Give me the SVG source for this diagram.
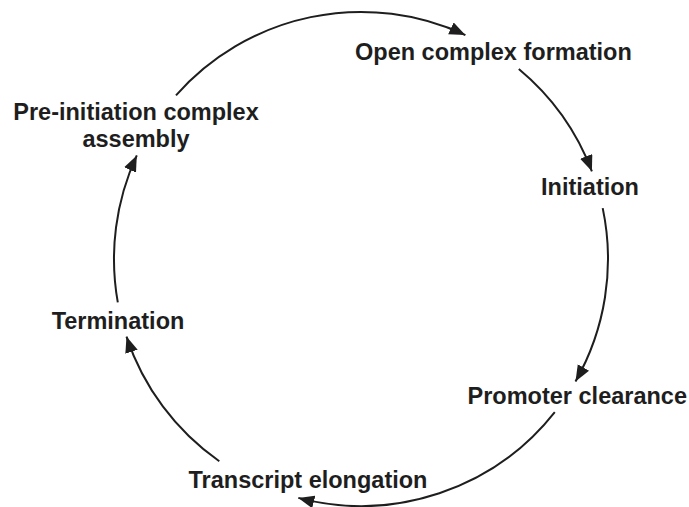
<svg xmlns="http://www.w3.org/2000/svg" width="689" height="507" viewBox="0 0 689 507">
  <style>
    .lbl { font-family: "Liberation Sans", Arial, Helvetica, sans-serif; font-weight: bold; font-size: 23.5px; fill: #1e1e1e; }
    .arc { fill: none; stroke: #1e1e1e; stroke-width: 2; }
  </style>
  <defs>
    <marker id="ah" markerUnits="userSpaceOnUse" markerWidth="17" markerHeight="14" refX="16" refY="6.5" orient="auto">
      <path d="M0,0 L16,6.5 L0,13 z" fill="#1e1e1e"/>
    </marker>
  </defs>
  <rect width="689" height="507" fill="#ffffff"/>
  <g id="connectors">
    <path class="arc" marker-end="url(#ah)" d="M176,95.3 A247,247 0 0 1 465.4,35.1"/>
    <path class="arc" marker-end="url(#ah)" d="M518.8,69 A247,247 0 0 1 591.9,171.3"/>
    <path class="arc" marker-end="url(#ah)" d="M602.7,208.1 A247,247 0 0 1 575.5,381.4"/>
    <path class="arc" marker-end="url(#ah)" d="M554.8,412.1 A247,247 0 0 1 298.3,497.9"/>
    <path class="arc" marker-end="url(#ah)" d="M219.3,461.3 A247,247 0 0 1 126.5,336.6"/>
    <path class="arc" marker-end="url(#ah)" d="M117.8,302.3 A247,247 0 0 1 136.8,155.4"/>
  </g>
  <g id="open-complex">
    <text class="lbl" x="355" y="60">Open complex formation</text>
  </g>
  <g id="initiation">
    <text class="lbl" x="590" y="195" text-anchor="middle">Initiation</text>
  </g>
  <g id="promoter-clearance">
    <text class="lbl" x="687" y="404" text-anchor="end">Promoter clearance</text>
  </g>
  <g id="transcript-elongation">
    <text class="lbl" x="308" y="488" text-anchor="middle">Transcript elongation</text>
  </g>
  <g id="termination">
    <text class="lbl" x="118" y="329" text-anchor="middle">Termination</text>
  </g>
  <g id="pre-initiation">
    <text class="lbl" x="136" y="120" text-anchor="middle">Pre-initiation complex</text>
    <text class="lbl" x="136" y="147" text-anchor="middle">assembly</text>
  </g>
</svg>
